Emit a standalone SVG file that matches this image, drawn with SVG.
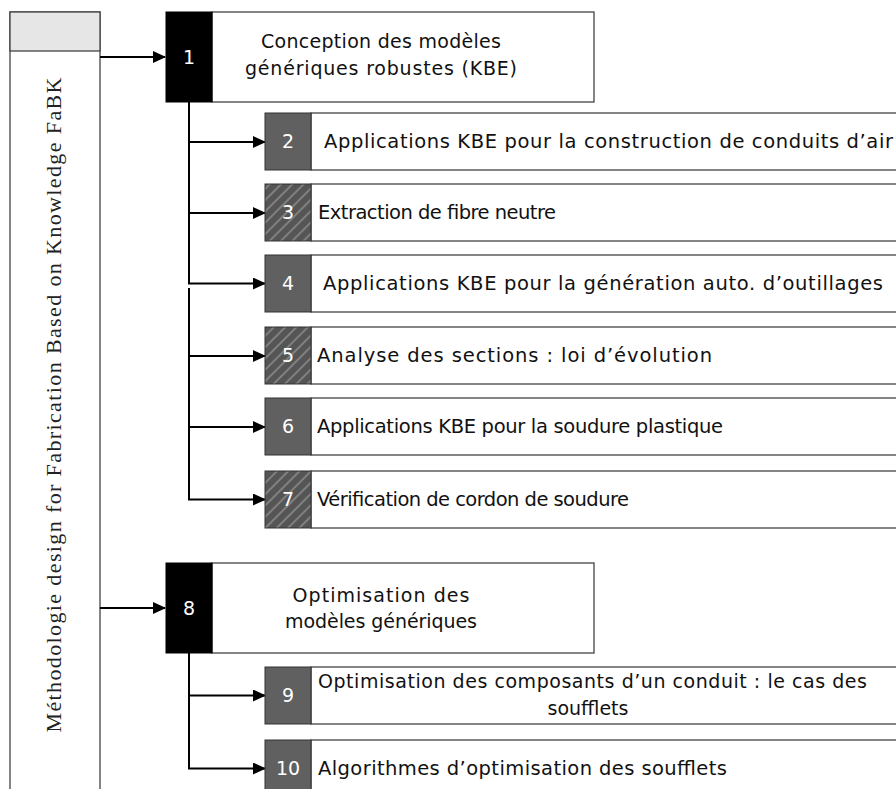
<svg xmlns="http://www.w3.org/2000/svg" width="896" height="789" viewBox="0 0 896 789">
<style>
.panel{fill:#fff;stroke:#444;stroke-width:1.3}
.hdr{fill:#e6e6e6;stroke:#444;stroke-width:1.3}
.blk{fill:#000;stroke:#000;stroke-width:1}
.wbox{fill:#fff;stroke:#444;stroke-width:1.3}
.solid{fill:#606060;stroke:#333;stroke-width:1}
.hatch{fill:url(#hatch);stroke:#333;stroke-width:1}
.num{font-family:"DejaVu Sans","Liberation Sans",sans-serif;font-size:19px;fill:#fff;text-anchor:middle}
.t{font-family:"DejaVu Sans","Liberation Sans",sans-serif;font-size:19.5px;fill:#111}
.tc{font-family:"DejaVu Sans","Liberation Sans",sans-serif;font-size:19px;fill:#111;text-anchor:middle}
.vt{font-family:"Liberation Serif","DejaVu Serif",serif;font-size:22px;fill:#222;text-anchor:middle}
.c{fill:none;stroke:#000;stroke-width:2}
</style>
<defs>
<pattern id="hatch" width="8" height="8" patternUnits="userSpaceOnUse" patternTransform="rotate(45)">
<rect width="8" height="8" fill="#555"/>
<line x1="1" y1="0" x2="1" y2="8" stroke="#8e8e8e" stroke-width="1.5"/>
</pattern>
<marker id="arr" markerWidth="13" markerHeight="12" refX="12" refY="6" orient="auto" markerUnits="userSpaceOnUse">
<path d="M0,0 L13,6 L0,12 z" fill="#000"/>
</marker>
</defs>
<rect width="896" height="789" fill="#fff"/>

<g id="panel">
<rect class="panel" x="10" y="12" width="90" height="800"/>
<rect class="hdr" x="10" y="12" width="90" height="39"/>
<text class="vt" transform="translate(61,405) rotate(-90)" textLength="655" lengthAdjust="spacing">Méthodologie design for Fabrication Based on Knowledge FaBK</text>
</g>

<g id="connectors">
<path class="c" d="M100,57 H165" marker-end="url(#arr)"/>
<path class="c" d="M100,608 H165" marker-end="url(#arr)"/>
<path class="c" d="M189,102 V142 H265" marker-end="url(#arr)"/>
<path class="c" d="M189,142 V213 H265" marker-end="url(#arr)"/>
<path class="c" d="M189,213 V283.5 H265" marker-end="url(#arr)"/>
<path class="c" d="M189,288 V356 H265" marker-end="url(#arr)"/>
<path class="c" d="M189,356 V427 H265" marker-end="url(#arr)"/>
<path class="c" d="M189,427 V499.5 H265" marker-end="url(#arr)"/>
<path class="c" d="M189,653 V695.5 H265" marker-end="url(#arr)"/>
<path class="c" d="M189,682 V768.5 H265" marker-end="url(#arr)"/>
</g>

<g id="node1">
<rect class="wbox" x="212" y="12" width="382" height="90"/>
<rect class="blk" x="166" y="12" width="46" height="90"/>
<text class="num" x="189" y="64">1</text>
<text class="tc" x="381" y="48" textLength="240" lengthAdjust="spacing">Conception des modèles</text>
<text class="tc" x="381" y="75" textLength="272" lengthAdjust="spacing">génériques robustes (KBE)</text>
</g>

<g id="node2">
<rect class="wbox" x="311" y="113" width="600" height="57"/>
<rect class="solid" x="265" y="113" width="46" height="57"/>
<text class="num" x="288" y="148">2</text>
<text class="t" x="324" y="148" textLength="569" lengthAdjust="spacing">Applications KBE pour la construction de conduits d’air</text>
</g>

<g id="node3">
<rect class="wbox" x="311" y="184" width="600" height="57"/>
<rect class="hatch" x="265" y="184" width="46" height="57"/>
<text class="num" x="288" y="219">3</text>
<text class="t" x="318" y="219" textLength="238" lengthAdjust="spacing">Extraction de fibre neutre</text>
</g>

<g id="node4">
<rect class="wbox" x="311" y="255" width="600" height="57"/>
<rect class="solid" x="265" y="255" width="46" height="57"/>
<text class="num" x="288" y="290">4</text>
<text class="t" x="323" y="290" textLength="560" lengthAdjust="spacing">Applications KBE pour la génération auto. d’outillages</text>
</g>

<g id="node5">
<rect class="wbox" x="311" y="327" width="600" height="57"/>
<rect class="hatch" x="265" y="327" width="46" height="57"/>
<text class="num" x="288" y="362">5</text>
<text class="t" x="317" y="362" textLength="395" lengthAdjust="spacing">Analyse des sections : loi d’évolution</text>
</g>

<g id="node6">
<rect class="wbox" x="311" y="398" width="600" height="57"/>
<rect class="solid" x="265" y="398" width="46" height="57"/>
<text class="num" x="288" y="433">6</text>
<text class="t" x="317" y="433" textLength="406" lengthAdjust="spacing">Applications KBE pour la soudure plastique</text>
</g>

<g id="node7">
<rect class="wbox" x="311" y="471" width="600" height="57"/>
<rect class="hatch" x="265" y="471" width="46" height="57"/>
<text class="num" x="288" y="506">7</text>
<text class="t" x="317" y="506" textLength="312" lengthAdjust="spacing">Vérification de cordon de soudure</text>
</g>

<g id="node8">
<rect class="wbox" x="212" y="563" width="382" height="90"/>
<rect class="blk" x="166" y="563" width="46" height="90"/>
<text class="num" x="189" y="615">8</text>
<text class="tc" x="381" y="602" textLength="177" lengthAdjust="spacing">Optimisation des</text>
<text class="tc" x="381" y="628" textLength="192" lengthAdjust="spacing">modèles génériques</text>
</g>

<g id="node9">
<rect class="wbox" x="311" y="667" width="600" height="57"/>
<rect class="solid" x="265" y="667" width="46" height="57"/>
<text class="num" x="288" y="702">9</text>
<text class="tc" x="592.5" y="688" textLength="549" lengthAdjust="spacing">Optimisation des composants d’un conduit : le cas des</text>
<text class="tc" x="588" y="715">soufflets</text>
</g>

<g id="node10">
<rect class="wbox" x="311" y="740" width="600" height="57"/>
<rect class="solid" x="265" y="740" width="46" height="57"/>
<text class="num" x="288" y="775">10</text>
<text class="t" x="318" y="775" textLength="409" lengthAdjust="spacing">Algorithmes d’optimisation des soufflets</text>
</g>
</svg>
